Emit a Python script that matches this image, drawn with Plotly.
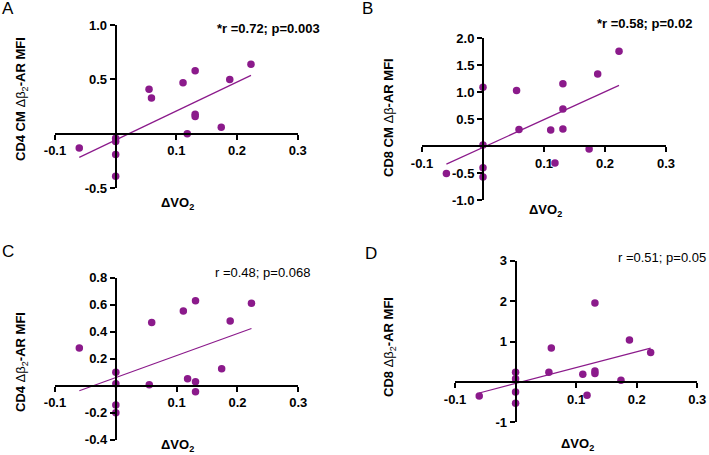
import numpy as np
import plotly.graph_objects as go

# ---------------- data ----------------
dvo2 = [-0.06, 0.0, 0.0, 0.0, 0.0, 0.055, 0.059, 0.111, 0.118, 0.131, 0.131, 0.131, 0.174, 0.188, 0.223]
cd4_cm = [-0.13, -0.04, -0.07, -0.19, -0.39, 0.41, 0.33, 0.47, 0.0, 0.58, 0.18, 0.16, 0.06, 0.50, 0.64]
cd8_cm = [-0.51, 1.09, 0.02, -0.40, -0.575, 1.03, 0.31, 0.30, -0.315, 1.157, 0.69, 0.315, -0.056, 1.336, 1.76]
cd4 = [0.28, 0.10, 0.015, -0.143, -0.20, 0.007, 0.469, 0.553, 0.052, 0.63, 0.03, -0.044, 0.126, 0.479, 0.61]
cd8 = [-0.35, 0.24, 0.08, -0.25, -0.53, 0.24, 0.84, 0.19, -0.33, 1.95, 0.27, 0.21, 0.04, 1.04, 0.73]

x_ticks = [-0.1, 0.1, 0.2, 0.3]
x_ticktext = ["-0.1", "0.1", "0.2", "0.3"]
yA_ticks = [1.0, 0.5, -0.5]
yA_text = ["1.0", "0.5", "-0.5"]
yB_ticks = [2.0, 1.5, 1.0, 0.5, -0.5, -1.0]
yB_text = ["2.0", "1.5", "1.0", "0.5", "-0.5", "-1.0"]
yC_ticks = [0.8, 0.6, 0.4, 0.2, -0.2, -0.4]
yC_text = ["0.8", "0.6", "0.4", "0.2", "-0.2", "-0.4"]
yD_ticks = [3, 2, 1, -1]
yD_text = ["3", "2", "1", "-1"]

stats = ["<b>*r =0.72; p=0.003</b>", "<b>*r =0.58; p=0.02</b>", "r =0.48; p=0.068", "r =0.51; p=0.05"]
ytitles = ["<b>CD4 CM </b>Δβ<sub>2</sub><b>-AR MFI</b>",
           "<b>CD8 CM </b>Δβ<b>-AR MFI</b>",
           "<b>CD4 </b>Δβ<sub>2</sub><b>-AR MFI</b>",
           "<b>CD8 </b>Δβ<sub>2</sub><b>-AR MFI</b>"]
letters = ["A", "B", "C", "D"]

# ---------------- layout geometry (pixels) ----------------
W, H = 709, 455
PURPLE = "#8B1A8B"
FONT = "Liberation Sans, Arial, sans-serif"
FS = 13

panels = [
    dict(y=cd4_cm, yr=[-0.5, 1.0], yt=yA_ticks, ytt=yA_text, px=(55, 297.7), py=(25, 188.3),
         stat=(322, 28), ytitle=(21, 99), xtitle=(177, 203), letter=(8, 8)),
    dict(y=cd8_cm, yr=[-1.0, 2.0], yt=yB_ticks, ytt=yB_text, px=(422, 666), py=(38.3, 200),
         stat=(694, 23), ytitle=(389, 118), xtitle=(545, 210), letter=(367, 8)),
    dict(y=cd4, yr=[-0.4, 0.8], yt=yC_ticks, ytt=yC_text, px=(55, 298.3), py=(277.7, 439.7),
         stat=(312, 272), ytitle=(21, 362), xtitle=(177, 445), letter=(8, 251)),
    dict(y=cd8, yr=[-1, 3], yt=yD_ticks, ytt=yD_text, px=(455, 697.3), py=(260.7, 422.3),
         stat=(708, 257), ytitle=(389, 347), xtitle=(577, 444), letter=(371, 253)),
]

fx = lambda p: p / W
fy = lambda p: 1 - p / H

fig = go.Figure()
annotations = []
xr = [-0.1, 0.3]
xarr = np.array(dvo2)

for i, p in enumerate(panels):
    n = "" if i == 0 else str(i + 1)
    xd = [fx(p["px"][0]), fx(p["px"][1])]
    yd = [fy(p["py"][1]), fy(p["py"][0])]
    yr = p["yr"]
    xpos = yd[0] + (0 - yr[0]) / (yr[1] - yr[0]) * (yd[1] - yd[0])
    ypos = xd[0] + (0 - xr[0]) / (xr[1] - xr[0]) * (xd[1] - xd[0])

    fig.add_trace(go.Scatter(x=dvo2, y=p["y"], mode="markers",
                             marker=dict(color=PURPLE, size=7.5),
                             xaxis="x" + n, yaxis="y" + n, showlegend=False, cliponaxis=False))
    slope, inter = np.polyfit(xarr, np.array(p["y"]), 1)
    xl = [xarr.min(), xarr.max()]
    fig.add_trace(go.Scatter(x=xl, y=[slope * v + inter for v in xl], mode="lines",
                             line=dict(color=PURPLE, width=1.2),
                             xaxis="x" + n, yaxis="y" + n, showlegend=False))

    common = dict(showgrid=False, zeroline=False, showline=True, linecolor="black", linewidth=2,
                  ticks="outside", ticklen=5, tickwidth=2, tickcolor="black", automargin=False,
                  tickfont=dict(family=FONT, size=FS, color="black", weight="bold"))
    fig.update_layout(**{
        "xaxis" + n: dict(domain=xd, range=xr, anchor="free", position=xpos,
                          tickvals=x_ticks, ticktext=x_ticktext, **common),
        "yaxis" + n: dict(domain=yd, range=yr, anchor="free", position=ypos,
                          tickvals=p["yt"], ticktext=p["ytt"], **common),
    })

    annotations.append(dict(x=fx(p["stat"][0]), y=fy(p["stat"][1]), xref="paper", yref="paper",
                            text=stats[i], showarrow=False, xanchor="right", yanchor="middle",
                            font=dict(family=FONT, size=FS, color="black")))
    annotations.append(dict(x=fx(p["ytitle"][0]), y=fy(p["ytitle"][1]), xref="paper", yref="paper",
                            text=ytitles[i], showarrow=False, textangle=-90,
                            xanchor="center", yanchor="middle",
                            font=dict(family=FONT, size=FS, color="black")))
    annotations.append(dict(x=fx(p["xtitle"][0]), y=fy(p["xtitle"][1]), xref="paper", yref="paper",
                            text="<b>ΔVO<sub>2</sub></b>", showarrow=False,
                            xanchor="center", yanchor="middle",
                            font=dict(family=FONT, size=FS, color="black")))
    annotations.append(dict(x=fx(p["letter"][0]), y=fy(p["letter"][1]), xref="paper", yref="paper",
                            text=letters[i], showarrow=False,
                            xanchor="center", yanchor="middle",
                            font=dict(family=FONT, size=17, color="black")))

fig.update_layout(width=W, height=H, margin=dict(l=0, r=0, t=0, b=0),
                  paper_bgcolor="white", plot_bgcolor="white", annotations=annotations)

fig.write_html("out.html", config={"displayModeBar": False},
               post_script="document.body.style.margin='0';document.body.style.overflow='hidden';")
